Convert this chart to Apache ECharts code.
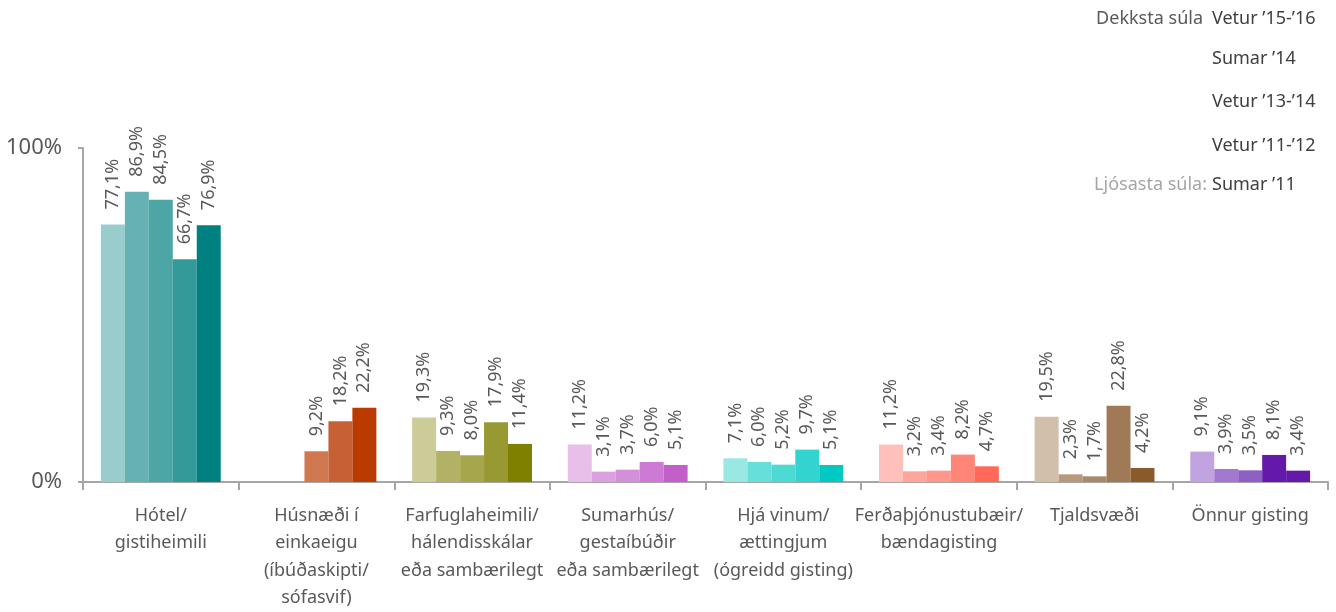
<!DOCTYPE html>
<html>
<head>
<meta charset="utf-8">
<script src="https://cdn.jsdelivr.net/npm/echarts@6/dist/echarts.min.js"></script>
<style>
  html, body { margin: 0; padding: 0; background: #ffffff; }
  #chart { width: 1336px; height: 612px; }
</style>
</head>
<body>
<div id="chart"></div>
<script>
// Gistimáti ferðamanna eftir tímabilum (hlutfall svarenda)
const categories = [
  'Hótel/\ngistiheimili',
  'Húsnæði í\neinkaeigu\n(íbúðaskipti/\nsófasvif)',
  'Farfuglaheimili/\nhálendisskálar\neða sambærilegt',
  'Sumarhús/\ngestaíbúðir\neða sambærilegt',
  'Hjá vinum/\nættingjum\n(ógreidd gisting)',
  'Ferðaþjónustubæir/\nbændagisting',
  'Tjaldsvæði',
  'Önnur gisting'
];

// Tímabil, frá ljósustu súlu til dekkstu
const periods = ['Sumar ’11', 'Vetur ’11-’12', 'Vetur ’13-’14', 'Sumar ’14', 'Vetur ’15-’16'];

const sumar11    = [77.1, null, 19.3, 11.2, 7.1, 11.2, 19.5, 9.1];
const vetur1112  = [86.9, null,  9.3,  3.1, 6.0,  3.2,  2.3, 3.9];
const vetur1314  = [84.5,  9.2,  8.0,  3.7, 5.2,  3.4,  1.7, 3.5];
const sumar14    = [66.7, 18.2, 17.9,  6.0, 9.7,  8.2, 22.8, 8.1];
const vetur1516  = [76.9, 22.2, 11.4,  5.1, 5.1,  4.7,  4.2, 3.4];
const seriesValues = [sumar11, vetur1112, vetur1314, sumar14, vetur1516];

const yTicks = [0, 100];
const noteDark = 'Dekksta súla';
const noteLight = 'Ljósasta súla:';

// Litaskali hvers flokks, ljósast fyrst
const palettes = [
  ['#99cccc', '#66b2b2', '#4da6a6', '#339999', '#008080'],
  ['#e0a080', '#d58a66', '#d07850', '#c86036', '#bb3a00'],
  ['#cccc99', '#b2b266', '#a6a64d', '#999933', '#808000'],
  ['#e8bfe8', '#dba0df', '#d48fda', '#cc7ad4', '#c25fc9'],
  ['#99e8e4', '#66deda', '#4ddad5', '#33d4cf', '#00c8c3'],
  ['#ffc0ba', '#ffa599', '#ff978a', '#ff8677', '#ff6a58'],
  ['#d2bfaa', '#b89a7a', '#a88a6a', '#a07a56', '#8b5a2b'],
  ['#c0a3df', '#a378d0', '#8f60c3', '#6419ab', '#6419ab']
];

const FONT = '"Noto Sans", "DejaVu Sans", sans-serif';
const fmt = v => v.toFixed(1).replace('.', ',') + '%';

const series = periods.map((name, si) => ({
  name: name,
  type: 'bar',
  barGap: '0%',
  barCategoryGap: '23%',
  data: seriesValues[si].map((v, ci) => ({
    value: v,
    itemStyle: { color: palettes[ci][si] }
  })),
  label: {
    show: true,
    position: 'top',
    rotate: 90,
    align: 'left',
    verticalAlign: 'middle',
    distance: 15,
    color: '#595959',
    fontFamily: FONT,
    fontSize: 18,
    formatter: p => (p.value == null ? '' : fmt(p.value))
  }
}));

// Skýringartexti efst til hægri
const noteY = [22, 62, 105, 149, 188];
const graphics = [];
periods.slice().reverse().forEach((name, i) => {
  graphics.push({
    type: 'text', left: 1212, top: noteY[i] - 12,
    style: { text: name, fill: '#404040', font: '18px ' + FONT }
  });
});
graphics.push({
  type: 'text', right: 1336 - 1203, top: noteY[0] - 12,
  style: { text: noteDark, fill: '#595959', font: '18px ' + FONT, textAlign: 'right' }
});
graphics.push({
  type: 'text', right: 1336 - 1207, top: noteY[4] - 12,
  style: { text: noteLight, fill: '#a6a6a6', font: '18px ' + FONT, textAlign: 'right' }
});

const chart = echarts.init(document.getElementById('chart'), null, { renderer: 'canvas' });
chart.setOption({
  animation: false,
  backgroundColor: '#ffffff',
  grid: { left: 83, right: 8, top: 148, bottom: 127.5, containLabel: false },
  xAxis: {
    type: 'category',
    data: categories,
    axisLine: { lineStyle: { color: '#a6a6a6', width: 2 } },
    axisTick: { show: true, length: 8, lineStyle: { color: '#a6a6a6', width: 2 } },
    axisLabel: {
      interval: 0,
      margin: 20,
      color: '#595959',
      fontFamily: FONT,
      fontSize: 18,
      lineHeight: 27.5,
      align: 'center'
    }
  },
  yAxis: {
    type: 'value',
    min: yTicks[0],
    max: yTicks[yTicks.length - 1],
    interval: 100,
    splitLine: { show: false },
    axisLine: { show: true, lineStyle: { color: '#a6a6a6', width: 2 } },
    axisTick: { show: true, length: 5, lineStyle: { color: '#a6a6a6', width: 2 } },
    axisLabel: {
      margin: 21,
      color: '#595959',
      fontFamily: FONT,
      fontSize: 22,
      formatter: '{value}%'
    }
  },
  graphic: graphics,
  series: series
});
</script>
</body>
</html>
